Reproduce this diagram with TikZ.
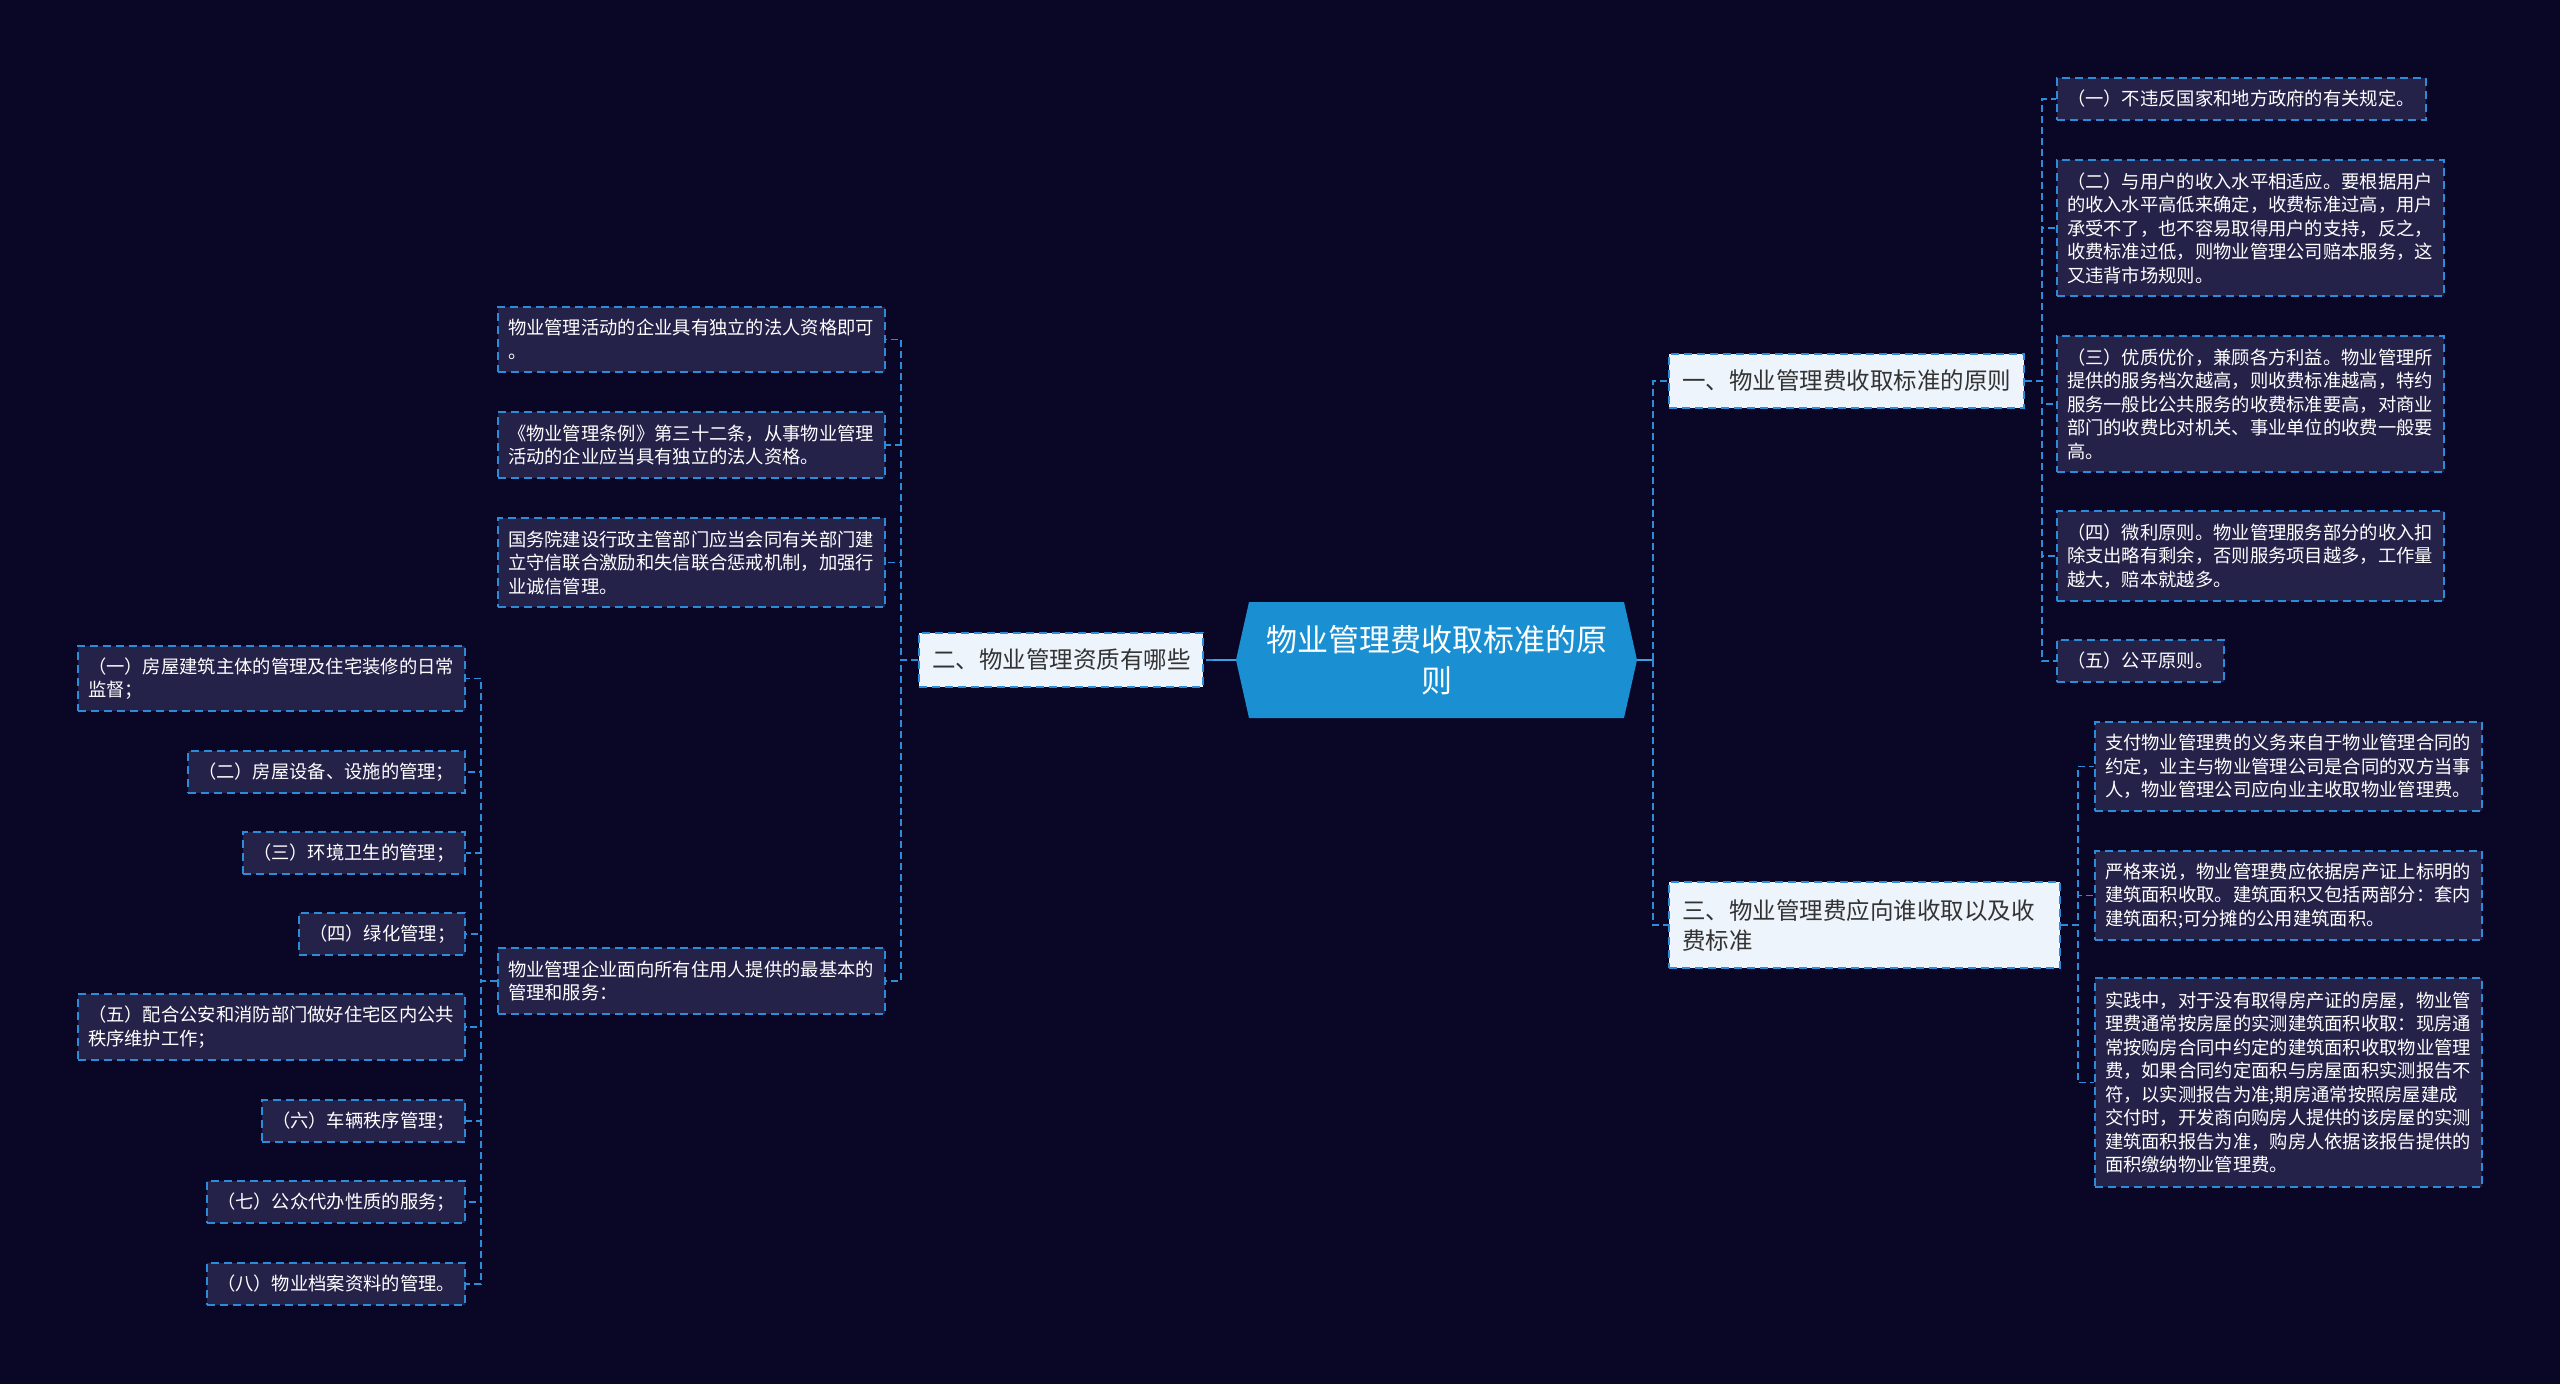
\documentclass[tikz,border=0pt]{standalone}
\usepackage{fontspec}
\setmainfont{Noto Sans CJK SC}
\definecolor{bg}{RGB}{10,6,38}
\definecolor{leaffill}{RGB}{37,34,74}
\definecolor{lineblue}{RGB}{45,140,215}
\definecolor{hubblue}{RGB}{26,143,210}
\definecolor{hubline}{RGB}{60,160,225}
\definecolor{lvlfill}{RGB}{238,244,252}
\definecolor{lvltext}{RGB}{51,51,51}
\begin{document}
\begin{tikzpicture}[x=1pt,y=-1pt,
  leaf/.style={draw=lineblue, line width=1.5pt, dash pattern=on 8pt off 5pt, fill=leaffill, text=white,
    font=\fontsize{18.3}{23.5}\selectfont, inner xsep=10pt, inner ysep=0pt, align=left, anchor=center},
  lvl/.style={draw=lineblue, line width=1.5pt, dash pattern=on 8pt off 5pt, fill=lvlfill, text=lvltext,
    font=\fontsize{23.5}{30}\selectfont, inner xsep=13pt, inner ysep=0pt, align=left, anchor=center},
  ctrtext/.style={text=white, font=\fontsize{31}{41}\selectfont, align=center, anchor=center},
  conn/.style={draw=lineblue, line width=1.6pt, dash pattern=on 7pt off 4pt},
  hub/.style={draw=hubline, line width=2.5pt}
]
\fill[bg] (0,0) rectangle (2560,1384);
\useasboundingbox (0,0) rectangle (2560,1384);

% central topic
\fill[hubblue] (1236,660) -- (1249,602) -- (1624,602) -- (1637,660) -- (1624,718) -- (1249,718) -- cycle;
\node[ctrtext] (ctr) at (1436.5,660) {物业管理费收取标准的原\\则};
\coordinate (ctrR) at (1637,660);
\coordinate (ctrL) at (1236,660);

% level 1
\node[lvl, text width=329pt, minimum height=54pt] (A) at (1846.5,381) {一、物业管理费收取标准的原则};
\node[lvl, text width=365pt, minimum height=86pt] (C) at (1864.5,925) {三、物业管理费应向谁收取以及收\\费标准};
\node[lvl, text width=258pt, minimum height=54pt] (B) at (1061,660) {二、物业管理资质有哪些};

% A children
\node[leaf, text width=349pt, minimum height=42pt] (A1) at (2241.5,99) {（一）不违反国家和地方政府的有关规定。};
\node[leaf, text width=367pt, minimum height=136pt] (A2) at (2250.5,228) {（二）与用户的收入水平相适应。要根据用户\\的收入水平高低来确定，收费标准过高，用户\\承受不了，也不容易取得用户的支持，反之，\\收费标准过低，则物业管理公司赔本服务，这\\又违背市场规则。};
\node[leaf, text width=367pt, minimum height=136pt] (A3) at (2250.5,404) {（三）优质优价，兼顾各方利益。物业管理所\\提供的服务档次越高，则收费标准越高，特约\\服务一般比公共服务的收费标准要高，对商业\\部门的收费比对机关、事业单位的收费一般要\\高。};
\node[leaf, text width=367pt, minimum height=90pt] (A4) at (2250.5,556) {（四）微利原则。物业管理服务部分的收入扣\\除支出略有剩余，否则服务项目越多，工作量\\越大，赔本就越多。};
\node[leaf, text width=147pt, minimum height=42pt] (A5) at (2140.5,661) {（五）公平原则。};

% C children
\node[leaf, text width=367pt, minimum height=89pt] (C1) at (2288.5,766.5) {支付物业管理费的义务来自于物业管理合同的\\约定，业主与物业管理公司是合同的双方当事\\人，物业管理公司应向业主收取物业管理费。};
\node[leaf, text width=367pt, minimum height=89pt] (C2) at (2288.5,895.5) {严格来说，物业管理费应依据房产证上标明的\\建筑面积收取。建筑面积又包括两部分：套内\\建筑面积;可分摊的公用建筑面积。};
\node[leaf, text width=367pt, minimum height=209pt] (C3) at (2288.5,1082.5) {实践中，对于没有取得房产证的房屋，物业管\\理费通常按房屋的实测建筑面积收取：现房通\\常按购房合同中约定的建筑面积收取物业管理\\费，如果合同约定面积与房屋面积实测报告不\\符，以实测报告为准;期房通常按照房屋建成\\交付时，开发商向购房人提供的该房屋的实测\\建筑面积报告为准，购房人依据该报告提供的\\面积缴纳物业管理费。};

% B children
\node[leaf, text width=367pt, minimum height=65pt] (B1) at (691.5,339.5) {物业管理活动的企业具有独立的法人资格即可\\。};
\node[leaf, text width=367pt, minimum height=66pt] (B2) at (691.5,445) {《物业管理条例》第三十二条，从事物业管理\\活动的企业应当具有独立的法人资格。};
\node[leaf, text width=367pt, minimum height=89pt] (B3) at (691.5,562.5) {国务院建设行政主管部门应当会同有关部门建\\立守信联合激励和失信联合惩戒机制，加强行\\业诚信管理。};
\node[leaf, text width=367pt, minimum height=66pt] (B4) at (691.5,981) {物业管理企业面向所有住用人提供的最基本的\\管理和服务：};

% B4 children
\node[leaf, text width=367pt, minimum height=65pt] (B41) at (271.5,678.5) {（一）房屋建筑主体的管理及住宅装修的日常\\监督；};
\node[leaf, text width=257pt, minimum height=42pt] (B42) at (326.5,772) {（二）房屋设备、设施的管理；};
\node[leaf, text width=202pt, minimum height=42pt] (B43) at (354,853) {（三）环境卫生的管理；};
\node[leaf, text width=146pt, minimum height=42pt] (B44) at (382,934) {（四）绿化管理；};
\node[leaf, text width=367pt, minimum height=66pt] (B45) at (271.5,1027) {（五）配合公安和消防部门做好住宅区内公共\\秩序维护工作；};
\node[leaf, text width=183pt, minimum height=42pt] (B46) at (363.5,1121) {（六）车辆秩序管理；};
\node[leaf, text width=238pt, minimum height=42pt] (B47) at (336,1202) {（七）公众代办性质的服务；};
\node[leaf, text width=238pt, minimum height=42pt] (B48) at (336,1284) {（八）物业档案资料的管理。};

% connectors
\draw[hub] (ctrR) -- ++(16,0) coordinate (jR);
\draw[conn] (jR) |- (A.west);
\draw[conn] (jR) |- (C.west);
\draw[hub] (ctrL) -- ++(-23,0) coordinate (jL);
\draw[conn] (jL) -- (B.east);
\foreach \n in {A1,A2,A3,A4,A5} \draw[conn] (A.east) -- ++(17,0) |- (\n.west);
\foreach \n in {C1,C2,C3} \draw[conn] (C.east) -- ++(17,0) |- (\n.west);
\foreach \n in {B1,B2,B3,B4} \draw[conn] (B.west) -- ++(-17,0) |- (\n.east);
\foreach \n in {B41,B42,B43,B44,B45,B46,B47,B48} \draw[conn] (B4.west) -- ++(-16,0) |- (\n.east);
\end{tikzpicture}
\end{document}
